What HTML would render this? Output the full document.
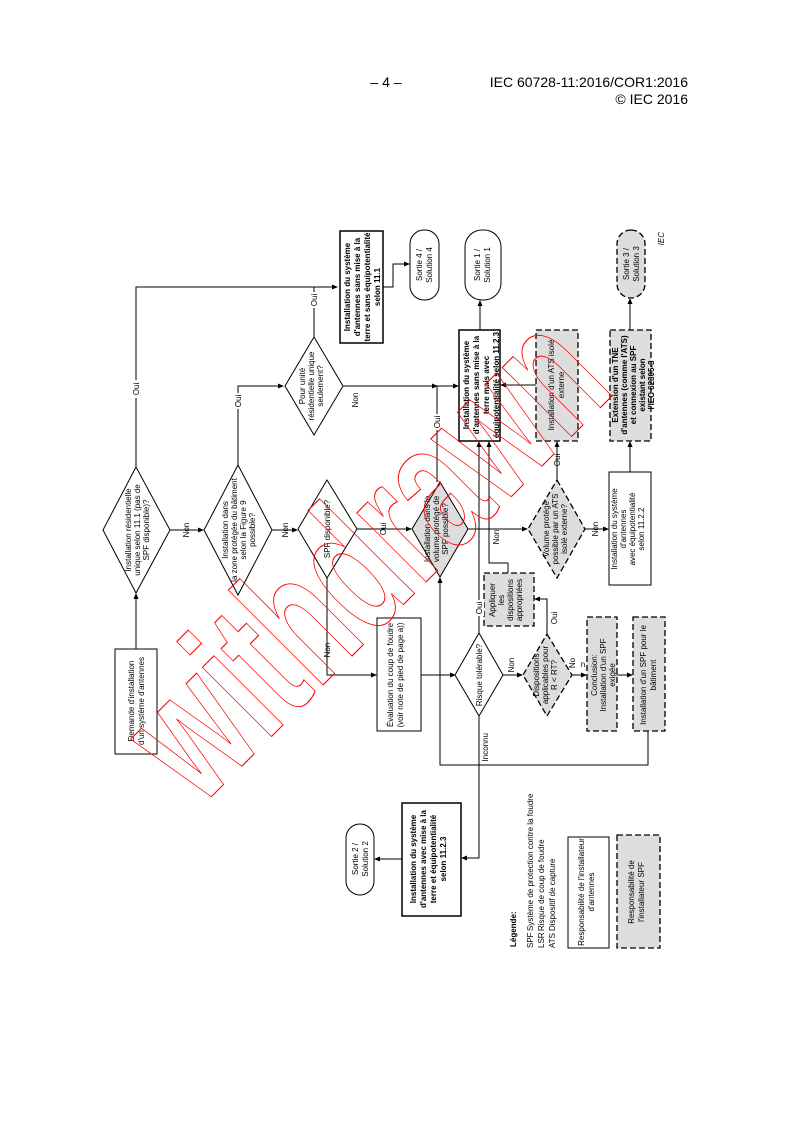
<!DOCTYPE html>
<html><head><meta charset="utf-8"><style>
html,body{margin:0;padding:0;background:#fff}
svg{display:block}
text{font-family:"Liberation Sans",Arial,sans-serif;fill:#000}
.d text,.t{font-size:8px}
.b{font-weight:bold}
</style></head><body>
<svg width="793" height="1122" viewBox="0 0 793 1122" xmlns="http://www.w3.org/2000/svg">
<defs><marker id="a" markerWidth="6" markerHeight="6" refX="5" refY="3" orient="auto" markerUnits="userSpaceOnUse"><path d="M0,0.5 L6,3 L0,5.5 Z" fill="#000"/></marker></defs>
<text x="386" y="87" font-size="14" text-anchor="middle">– 4 –</text>
<text x="688" y="87" font-size="14" text-anchor="end">IEC 60728-11:2016/COR1:2016</text>
<text x="688" y="104" font-size="14" text-anchor="end">© IEC 2016</text>

<g fill="none" stroke="#000" stroke-width="1">
<path d="M136,649 V594" marker-end="url(#a)"/>
<path d="M136,467 V287 H337" marker-end="url(#a)"/>
<path d="M170,530 H203" marker-end="url(#a)"/>
<path d="M272,530 H297" marker-end="url(#a)"/>
<path d="M238,465 V386 H283" marker-end="url(#a)"/>
<path d="M314,337 V287"/>
<path d="M383,287 H393 V264 H409" marker-end="url(#a)"/>
<path d="M343,386 H437" marker-end="url(#a)"/>
<path d="M437,386 H458" marker-end="url(#a)"/>
<path d="M437,482 V386"/>
<path d="M480,330 V301" marker-end="url(#a)"/>
<path d="M536,385 H501" marker-end="url(#a)"/>
<path d="M630,330 V299" marker-end="url(#a)"/>
<path d="M630,472 V442" marker-end="url(#a)"/>
<path d="M357,529 H411" marker-end="url(#a)"/>
<path d="M468,529 H527" marker-end="url(#a)"/>
<path d="M557,480 V442" marker-end="url(#a)"/>
<path d="M585,529 H608" marker-end="url(#a)"/>
<path d="M479,633 V442" marker-end="url(#a)"/>
<path d="M508,573 V563 H489 V442" marker-end="url(#a)"/>
<path d="M547,634 V599 H535" marker-end="url(#a)"/>
<path d="M327,578 V675 H376" marker-end="url(#a)"/>
<path d="M421,675 H455" marker-end="url(#a)"/>
<path d="M503,675 H522" marker-end="url(#a)"/>
<path d="M572,675 H586" marker-end="url(#a)"/>
<path d="M617,675 H632" marker-end="url(#a)"/>
<path d="M648,731 V765 H440 V578" marker-end="url(#a)"/>
<path d="M479,716 V858 H462" marker-end="url(#a)"/>
<path d="M402,859 H375" marker-end="url(#a)"/>
</g>

<g stroke="#000" stroke-width="1">
<rect x="115" y="649" width="42" height="105" fill="#fff"/>
<polygon points="136,467 170,530 136,593 103,530" fill="#fff"/>
<polygon points="238,465 272,530 238,595 204,530" fill="#fff"/>
<polygon points="314,337 343,386 314,435 285,386" fill="#fff"/>
<polygon points="327,480 357,529 327,578 298,529" fill="#fff"/>
<polygon points="440,482 468,529 440,577 412,529" fill="#ddd"/>
<rect x="340" y="231" width="43" height="112" fill="#fff" stroke-width="1.5"/>
<rect x="410" y="230" width="29" height="70" rx="14" fill="#fff"/>
<rect x="459" y="330" width="41" height="111" fill="#fff" stroke-width="1.5"/>
<rect x="465" y="230" width="36" height="70" rx="17" fill="#fff"/>
<rect x="609" y="472" width="42" height="113" fill="#fff"/>
<rect x="377" y="618" width="44" height="113" fill="#fff"/>
<polygon points="479,633 503,675 479,716 455,675" fill="#fff"/>
<rect x="402" y="803" width="59" height="113" fill="#fff" stroke-width="1.5"/>
<rect x="346" y="824" width="28" height="71" rx="14" fill="#fff"/>
<rect x="568" y="837" width="41" height="111" fill="#fff"/>
</g>
<g stroke="#000" stroke-width="1.3" stroke-dasharray="6,3" fill="#ddd">
<rect x="536" y="330" width="42" height="111"/>
<rect x="617" y="230" width="28" height="68" rx="14"/>
<rect x="610" y="330" width="41" height="111"/>
<polygon points="557,480 585,529 557,578 528,529"/>
<rect x="484" y="573" width="50" height="53"/>
<polygon points="547,634 572,675 547,716 523,675"/>
<rect x="587" y="617" width="30" height="114"/>
<rect x="633" y="617" width="32" height="114"/>
<rect x="617" y="835" width="43" height="113"/>
</g>

<g class="d">
<text transform="translate(131,701) rotate(-90)" text-anchor="middle"><tspan x="0" y="3">Demande d'installation</tspan><tspan x="0" y="13">d'un système d'antennes</tspan></text>
<text transform="translate(131,530) rotate(-90)" text-anchor="middle" font-size="7.5"><tspan x="0" y="0">Installation résidentielle</tspan><tspan x="0" y="9">unique selon 11.1 (pas de</tspan><tspan x="0" y="18">SPF disponible)?</tspan></text>
<text transform="translate(228,530) rotate(-90)" text-anchor="middle" font-size="7.5"><tspan x="0" y="0">Installation dans</tspan><tspan x="0" y="9">la zone protégée du bâtiment</tspan><tspan x="0" y="18">selon la Figure 9</tspan><tspan x="0" y="27">possible?</tspan></text>
<text transform="translate(305,386) rotate(-90)" text-anchor="middle" font-size="7.5"><tspan x="0" y="0">Pour unité</tspan><tspan x="0" y="9">résidentielle unique</tspan><tspan x="0" y="18">seulement?</tspan></text>
<text transform="translate(330,529) rotate(-90)" text-anchor="middle" font-size="7.5">SPF disponible?</text>
<text transform="translate(430,529) rotate(-90)" text-anchor="middle" font-size="7.5"><tspan x="0" y="0">Installation dans le</tspan><tspan x="0" y="9">volume protégé de</tspan><tspan x="0" y="18">SPF possible?</tspan></text>
<text transform="translate(549,529) rotate(-90)" text-anchor="middle" font-size="7.5"><tspan x="0" y="0">Volume protégé</tspan><tspan x="0" y="9">possible par un ATS</tspan><tspan x="0" y="18">isolé externe?</tspan></text>
<text transform="translate(482,675) rotate(-90)" text-anchor="middle" font-size="7.5">Risque tolérable?</text>
<text transform="translate(539,675) rotate(-90)" text-anchor="middle" font-size="7.5"><tspan x="0" y="0">Dispositions</tspan><tspan x="0" y="9">applicables pour</tspan><tspan x="0" y="18">R &lt; RT?</tspan></text>
<text class="b" transform="translate(350,287) rotate(-90)" text-anchor="middle" font-size="7.5"><tspan x="0" y="0">Installation du système</tspan><tspan x="0" y="10">d'antennes sans mise à la</tspan><tspan x="0" y="20">terre et sans équipotentialité</tspan><tspan x="0" y="30">selon 11.1</tspan></text>
<text transform="translate(422,265) rotate(-90)" text-anchor="middle"><tspan x="0" y="0">Sortie 4 /</tspan><tspan x="0" y="10">Solution 4</tspan></text>
<text class="b" transform="translate(469,385) rotate(-90)" text-anchor="middle" font-size="7.5"><tspan x="0" y="0">Installation du système</tspan><tspan x="0" y="10">d'antennes sans mise à la</tspan><tspan x="0" y="20">terre mais avec</tspan><tspan x="0" y="30">équipotentialité selon 11.2.3</tspan></text>
<text transform="translate(480,265) rotate(-90)" text-anchor="middle"><tspan x="0" y="0">Sortie 1 /</tspan><tspan x="0" y="10">Solution 1</tspan></text>
<text transform="translate(554,385) rotate(-90)" text-anchor="middle"><tspan x="0" y="0">Installation d'un ATS isolé</tspan><tspan x="0" y="10">externe</tspan></text>
<text transform="translate(629,264) rotate(-90)" text-anchor="middle"><tspan x="0" y="0">Sortie 3 /</tspan><tspan x="0" y="10">Solution 3</tspan></text>
<text class="b" transform="translate(618,385) rotate(-90)" text-anchor="middle" font-size="7.5"><tspan x="0" y="0">Extension d'un TNE</tspan><tspan x="0" y="9">d'antennes (comme l'ATS)</tspan><tspan x="0" y="18">et connexion au SPF</tspan><tspan x="0" y="27">existant selon</tspan><tspan x="0" y="36">l'IEC 62305-3</tspan></text>
<text transform="translate(617,529) rotate(-90)" text-anchor="middle" font-size="7.5"><tspan x="0" y="0">Installation du système</tspan><tspan x="0" y="9">d'antennes</tspan><tspan x="0" y="18">avec équipotentialité</tspan><tspan x="0" y="27">selon 11.2.2</tspan></text>
<text transform="translate(495,600) rotate(-90)" text-anchor="middle" font-size="7.5"><tspan x="0" y="0">Appliquer</tspan><tspan x="0" y="9">les</tspan><tspan x="0" y="18">dispositions</tspan><tspan x="0" y="27">appropriées</tspan></text>
<text transform="translate(393,675) rotate(-90)" text-anchor="middle"><tspan x="0" y="0">Évaluation du coup de foudre</tspan><tspan x="0" y="10">(voir note de pied de page a))</tspan></text>
<text transform="translate(597,675) rotate(-90)" text-anchor="middle" font-size="7.5"><tspan x="0" y="0">Conclusion:</tspan><tspan x="0" y="9">Installation d'un SPF</tspan><tspan x="0" y="18">exigée</tspan></text>
<text transform="translate(646,675) rotate(-90)" text-anchor="middle" font-size="7.5"><tspan x="0" y="0">Installation d'un SPF pour le</tspan><tspan x="0" y="10">bâtiment</tspan></text>
<text class="b" transform="translate(416,859) rotate(-90)" text-anchor="middle" font-size="7.5"><tspan x="0" y="0">Installation du système</tspan><tspan x="0" y="10">d'antennes avec mise à la</tspan><tspan x="0" y="20">terre et équipotentialité</tspan><tspan x="0" y="30">selon 11.2.3</tspan></text>
<text transform="translate(358,859) rotate(-90)" text-anchor="middle"><tspan x="0" y="0">Sortie 2 /</tspan><tspan x="0" y="10">Solution 2</tspan></text>
<text transform="translate(584,892) rotate(-90)" text-anchor="middle"><tspan x="0" y="0">Responsabilité de l'installateur</tspan><tspan x="0" y="10">d'antennes</tspan></text>
<text transform="translate(634,892) rotate(-90)" text-anchor="middle"><tspan x="0" y="0">Responsabilité de</tspan><tspan x="0" y="10">l'installateur SPF</tspan></text>
<text class="b" transform="translate(516,947) rotate(-90)">Légende:</text>
<text transform="translate(533,948) rotate(-90)">SPF</text><text transform="translate(533,931) rotate(-90)">Système de protection contre la foudre</text>
<text transform="translate(544,948) rotate(-90)">LSR</text><text transform="translate(544,931) rotate(-90)">Risque de coup de foudre</text>
<text transform="translate(555,948) rotate(-90)">ATS</text><text transform="translate(555,931) rotate(-90)">Dispositif de capture</text>
<g font-size="7.5">
<rect x="131" y="380" width="10" height="18" fill="#fff"/>
<text transform="translate(139,389) rotate(-90)" text-anchor="middle">Oui</text>
<text transform="translate(189,530) rotate(-90)" text-anchor="middle">Non</text>
<text transform="translate(288,530) rotate(-90)" text-anchor="middle">Non</text>
<rect x="233" y="393" width="10" height="16" fill="#fff"/>
<text transform="translate(241,401) rotate(-90)" text-anchor="middle">Oui</text>
<rect x="309" y="292" width="10" height="16" fill="#fff"/>
<text transform="translate(317,300) rotate(-90)" text-anchor="middle">Oui</text>
<text transform="translate(358,400) rotate(-90)" text-anchor="middle" font-size="6">Non</text>
<text transform="translate(386,529) rotate(-90)" text-anchor="middle">Oui</text>
<rect x="432" y="414" width="10" height="16" fill="#fff"/>
<text transform="translate(440,422) rotate(-90)" text-anchor="middle">Oui</text>
<text transform="translate(499,537) rotate(-90)" text-anchor="middle">Non</text>
<text transform="translate(560,460) rotate(-90)" text-anchor="middle">Oui</text>
<text transform="translate(598,529) rotate(-90)" text-anchor="middle">Non</text>
<text transform="translate(330,650) rotate(-90)" text-anchor="middle">Non</text>
<rect x="474" y="600" width="10" height="16" fill="#fff"/>
<text transform="translate(482,608) rotate(-90)" text-anchor="middle">Oui</text>
<text transform="translate(514,665) rotate(-90)" text-anchor="middle">Non</text>
<text transform="translate(557,618) rotate(-90)" text-anchor="middle">Oui</text>
<text transform="translate(575,663) rotate(-90)" text-anchor="middle">No</text>
<text x="583" y="667" text-anchor="middle">n</text>
<text transform="translate(488,733) rotate(-90)" text-anchor="end">Inconnu</text>
</g>
<text transform="translate(664,232) rotate(-90)" text-anchor="end" font-style="italic" font-size="8">IEC</text>
</g>

<text transform="translate(200,808) rotate(-45)" font-size="185" font-weight="bold" textLength="590" lengthAdjust="spacingAndGlyphs" style="fill:none;stroke:#f00;stroke-width:1.1">withdrawn</text>
</svg>
</body></html>
